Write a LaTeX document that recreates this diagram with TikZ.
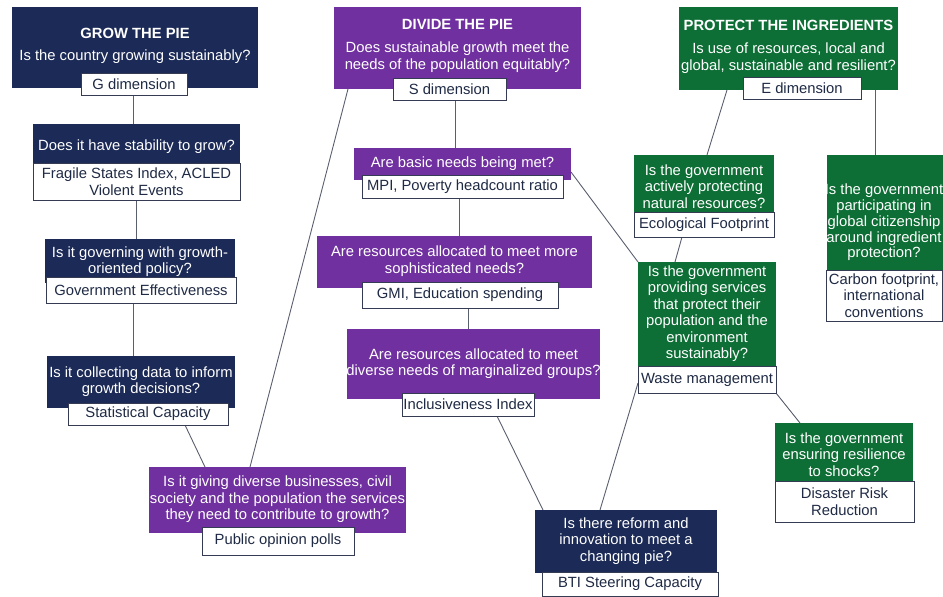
\documentclass[tikz,border=0pt]{standalone}
\usepackage{fontspec}
\setmainfont{Liberation Sans}
\usetikzlibrary{backgrounds}
\definecolor{navyq}{HTML}{1B2A56}
\definecolor{purpq}{HTML}{7030A0}
\definecolor{greenq}{HTML}{0D6F35}
\definecolor{lblborder}{HTML}{353B52}
\definecolor{lbltext}{HTML}{1F2A44}
\definecolor{connq}{HTML}{5A5F6E}
\begin{document}
\begin{tikzpicture}[x=1pt,y=-1pt,
  boxbase/.style={draw=none, inner sep=0pt, outer sep=0pt, anchor=north west},
  navybox/.style={boxbase, fill=navyq},
  purpbox/.style={boxbase, fill=purpq},
  greenbox/.style={boxbase, fill=greenq},
  qtext/.style={text=white, align=center, inner sep=0pt, yshift=-1.5pt, font=\fontsize{14.8}{16.5}\selectfont},
  lbl/.style={draw=lblborder, line width=0.9pt, fill=white, text=lbltext, inner sep=0pt, outer sep=0pt, anchor=north west, align=center, font=\fontsize{14.8}{16.5}\selectfont},
  conn/.style={draw=connq, line width=0.9pt}]
\clip (0,0) rectangle (943,597);
\useasboundingbox (0,0) rectangle (943,597);

% ---------- GROW THE PIE column ----------
\node[navybox, minimum width=246pt, minimum height=81pt] (g0) at (12,7) {};
\node[qtext] (g0t) at (135,44) {\textbf{GROW THE PIE}\\[5.5pt]Is the country growing sustainably?};
\node[lbl, minimum width=106pt, minimum height=22pt] (g0l) at (81,73) {G dimension};

\node[navybox, minimum width=207pt, minimum height=40pt] (g1) at (33,124) {};
\node[qtext] (g1t) at (136.5,145) {Does it have stability to grow?};
\node[lbl, minimum width=207pt, minimum height=37pt] (g1l) at (33,163) {Fragile States Index, ACLED\\Violent Events};

\node[navybox, minimum width=190pt, minimum height=44pt] (g2) at (45,239) {};
\node[qtext] (g2t) at (140,260) {Is it governing with growth-\\oriented policy?};
\node[lbl, minimum width=190pt, minimum height=26pt] (g2l) at (46,277) {Government Effectiveness};

\node[navybox, minimum width=188pt, minimum height=52pt] (g3) at (47,356) {};
\node[qtext] (g3t) at (141,380) {Is it collecting data to inform\\growth decisions?};
\node[lbl, minimum width=160pt, minimum height=22pt] (g3l) at (68,403) {Statistical Capacity};

\node[purpbox, minimum width=257pt, minimum height=66pt] (g4) at (149,467) {};
\node[qtext] (g4t) at (277.5,498) {Is it giving diverse businesses, civil\\society and the population the services\\they need to contribute to growth?};
\node[lbl, minimum width=152pt, minimum height=28pt] (g4l) at (202,527) {Public opinion polls};

% ---------- DIVIDE THE PIE column ----------
\node[purpbox, minimum width=247pt, minimum height=82pt] (d0) at (334,7) {};
\node[qtext] (d0t) at (457.5,44.5) {\textbf{DIVIDE THE PIE}\\[6.5pt]Does sustainable growth meet the\\needs of the population equitably?};
\node[lbl, minimum width=113pt, minimum height=22pt] (d0l) at (393,78) {S dimension};

\node[purpbox, minimum width=217pt, minimum height=32pt] (d1) at (354,148) {};
\node[qtext] (d1t) at (462.5,162) {Are basic needs being met?};
\node[lbl, minimum width=201pt, minimum height=23pt] (d1l) at (362,175) {MPI, Poverty headcount ratio};

\node[purpbox, minimum width=275pt, minimum height=52pt] (d2) at (317,236) {};
\node[qtext] (d2t) at (454.5,259.5) {Are resources allocated to meet more\\sophisticated needs?};
\node[lbl, minimum width=196pt, minimum height=26pt] (d2l) at (362,282) {GMI, Education spending};

\node[purpbox, minimum width=253pt, minimum height=70pt] (d3) at (347,329) {};
\node[qtext] (d3t) at (473.5,362) {Are resources allocated to meet\\diverse needs of marginalized groups?};
\node[lbl, minimum width=132pt, minimum height=23pt] (d3l) at (402,393) {Inclusiveness Index};

\node[navybox, minimum width=182pt, minimum height=63pt] (b1) at (535,510) {};
\node[qtext] (b1t) at (626,539.5) {Is there reform and\\innovation to meet a\\changing pie?};
\node[lbl, minimum width=176pt, minimum height=24pt] (b1l) at (542,572) {BTI Steering Capacity};

% ---------- PROTECT THE INGREDIENTS column ----------
\node[greenbox, minimum width=219pt, minimum height=83pt] (e0) at (679,7) {};
\node[qtext] (e0t) at (788.5,45.5) {\textbf{PROTECT THE INGREDIENTS}\\[6.5pt]Is use of resources, local and\\global, sustainable and resilient?};
\node[lbl, minimum width=118pt, minimum height=22pt] (e0l) at (743,77) {E dimension};

\node[greenbox, minimum width=140pt, minimum height=58pt] (e1) at (634,155) {};
\node[qtext] (e1t) at (704,185) {Is the government\\actively protecting\\natural resources?};
\node[lbl, minimum width=140pt, minimum height=25pt] (e1l) at (634,212) {Ecological Footprint};

\node[greenbox, minimum width=138pt, minimum height=105pt] (e2) at (638,262) {};
\node[qtext] (e2t) at (707,312) {Is the government\\providing services\\that protect their\\population and the\\environment\\sustainably?};
\node[lbl, minimum width=138pt, minimum height=27pt] (e2l) at (638,366) {Waste management};

\node[greenbox, minimum width=138pt, minimum height=59pt] (e3) at (775,423) {};
\node[qtext] (e3t) at (844,453) {Is the government\\ensuring resilience\\to shocks?};
\node[lbl, minimum width=139pt, minimum height=41pt] (e3l) at (775,481) {Disaster Risk\\Reduction};

\node[greenbox, minimum width=116pt, minimum height=117pt] (e4) at (827,155) {};
\node[qtext, font=\fontsize{14.8}{15.8}\selectfont] (e4t) at (884,221) {Is the government\\participating in\\global citizenship\\around ingredient\\protection?};
\node[lbl, minimum width=116pt, minimum height=51pt] (e4l) at (826,270) {Carbon footprint,\\international\\conventions};

% ---------- connectors ----------
\begin{scope}[on background layer]
\draw[conn] ([xshift=-1pt]g0l.south) -- ([xshift=-1pt]g0l.south |- g1.north);
\draw[conn] (g1l.south) -- (g1l.south |- g2.north);
\draw[conn] ([xshift=-8pt]g2l.south) -- ([xshift=-8pt]g2l.south |- g3.north);
\draw[conn] ([xshift=37pt]g3l.south) -- ([xshift=-72.5pt]g4.north);
\draw[conn] ([xshift=14pt]d0.south west) -- ([xshift=-27.5pt]g4.north);
\draw[conn] ([xshift=5.5pt]d0l.south) -- ([xshift=5.5pt]d0l.south |- d1.north);
\draw[conn] ([xshift=-3.5pt]d1l.south) -- ([xshift=-3.5pt]d1l.south |- d2.north);
\draw[conn] ([xshift=8pt]d2l.south) -- ([xshift=8pt]d2l.south |- d3.north);
\draw[conn] ([xshift=29pt]d3l.south) -- ([xshift=8pt]b1.north west);
\draw[conn] ([yshift=8pt]d1.south east) -- (e2.north west);
\draw[conn] ([xshift=-26pt]b1.north) -- ([yshift=-3.5pt]e2l.west);
\draw[conn] ([xshift=48pt]e0.south west) -- ([xshift=3pt]e1.north);
\draw[conn] ([xshift=-23pt]e0.south east) -- ([xshift=-23pt]e0.south east |- e4.north);
\draw[conn] ([xshift=-22pt]e1l.south) -- ([xshift=-32pt]e2.north);
\draw[conn] (e2l.south east) -- ([xshift=25pt]e3.north west);
\end{scope}
\end{tikzpicture}
\end{document}
